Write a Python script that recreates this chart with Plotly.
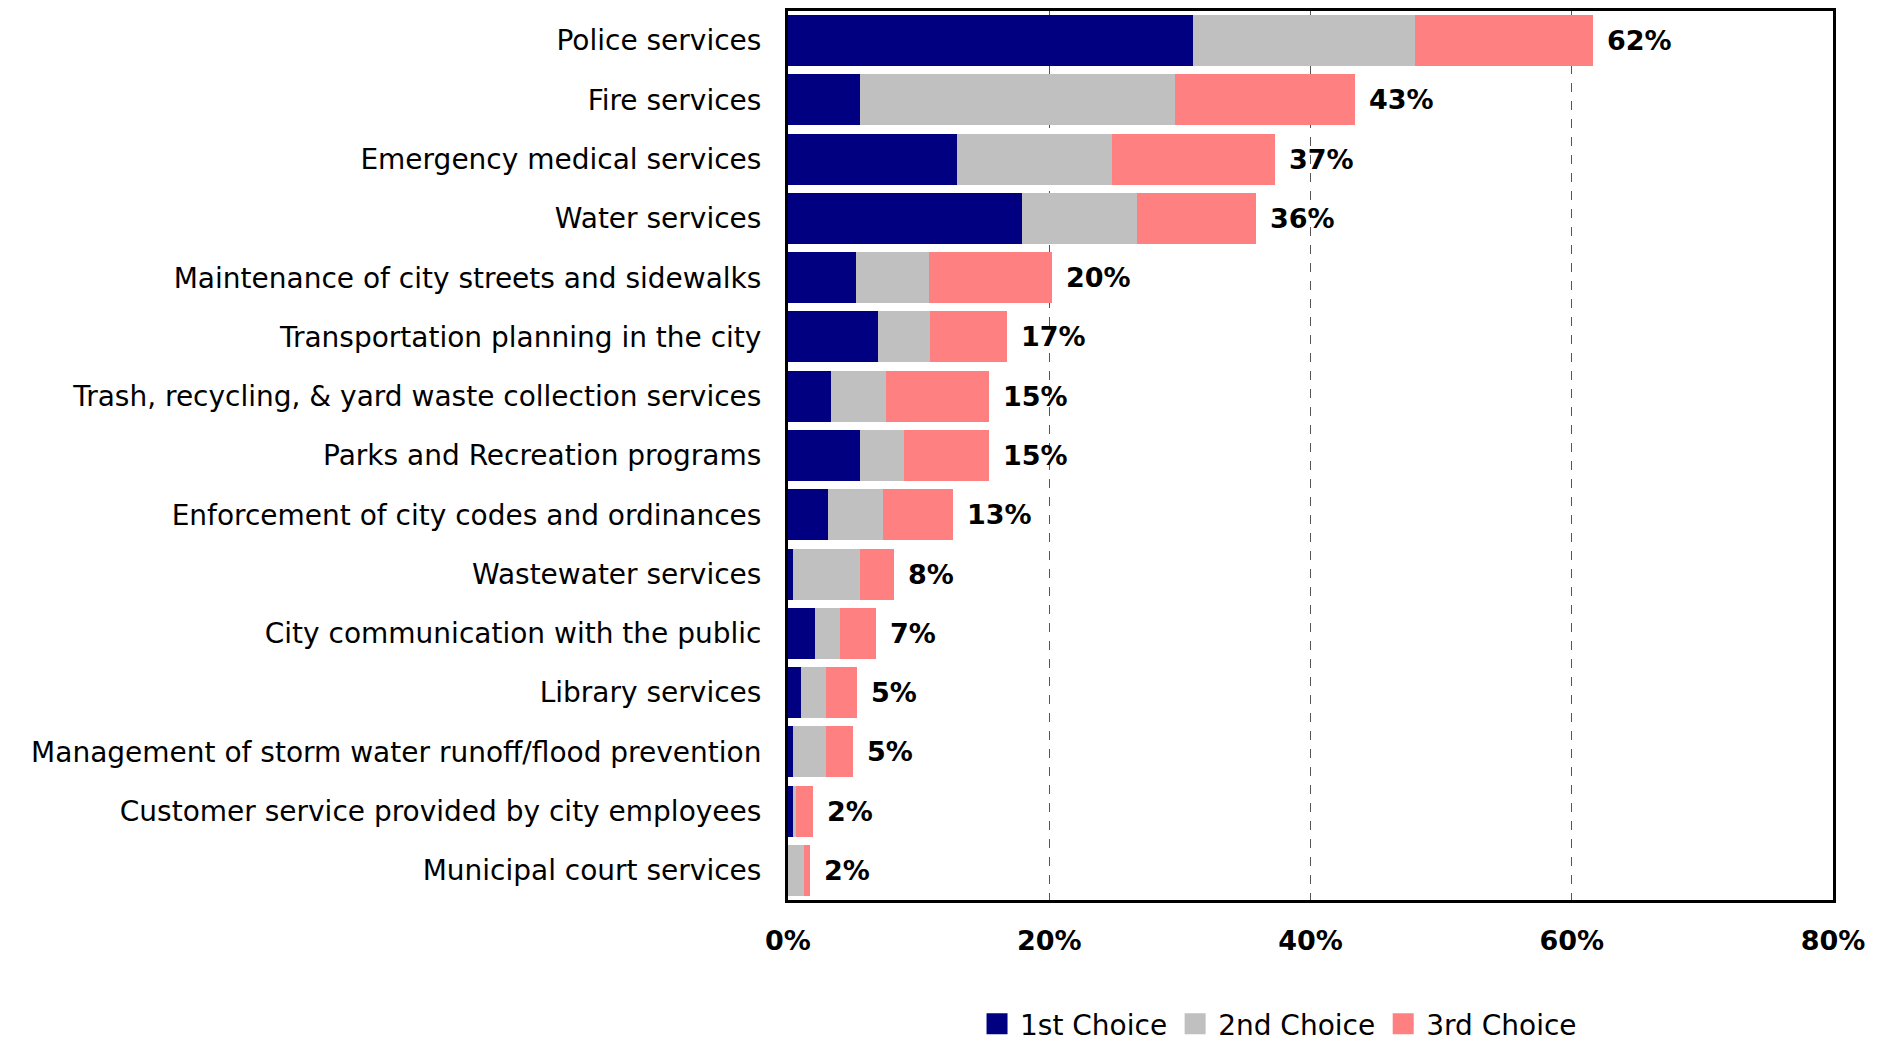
import plotly.graph_objects as go

# Service categories, top to bottom
categories = [
    "Police services",
    "Fire services",
    "Emergency medical services",
    "Water services",
    "Maintenance of city streets and sidewalks",
    "Transportation planning in the city",
    "Trash, recycling, & yard waste collection services",
    "Parks and Recreation programs",
    "Enforcement of city codes and ordinances",
    "Wastewater services",
    "City communication with the public",
    "Library services",
    "Management of storm water runoff/flood prevention",
    "Customer service provided by city employees",
    "Municipal court services",
]

# Percent of respondents choosing each service
first_choice = [31.0, 5.5, 12.9, 17.9, 5.2, 6.9, 3.3, 5.5, 3.1, 0.4, 2.1, 1.0, 0.4, 0.4, 0.0]
second_choice = [17.0, 24.1, 11.9, 8.8, 5.6, 4.0, 4.2, 3.4, 4.2, 5.1, 1.9, 1.9, 2.5, 0.2, 1.2]
third_choice = [13.6, 13.8, 12.5, 9.1, 9.4, 5.9, 7.9, 6.5, 5.3, 2.6, 2.7, 2.4, 2.1, 1.3, 0.5]

series_names = ["1st Choice", "2nd Choice", "3rd Choice"]
series_colors = ["#000080", "#C0C0C0", "#FF8080"]
x_ticks = [0, 20, 40, 60, 80]
x_tick_labels = ["0%", "20%", "40%", "60%", "80%"]

FONT = "DejaVu Sans, sans-serif"

fig = go.Figure()
for name, vals, color in zip(series_names, [first_choice, second_choice, third_choice], series_colors):
    fig.add_trace(go.Bar(
        y=categories, x=vals, name=name, orientation="h",
        marker=dict(color=color, line=dict(width=0)), showlegend=False,
    ))
    # square legend key
    fig.add_trace(go.Scatter(
        x=[None], y=[None], mode="markers", name=name,
        marker=dict(symbol="square", size=16, color=color, line=dict(color=color, width=6)),
    ))

totals = [round(a + b + c, 1) for a, b, c in zip(first_choice, second_choice, third_choice)]
for cat, tot in zip(categories, totals):
    fig.add_annotation(
        x=tot, y=cat, text=f"<b>{tot:.0f}%</b>", showarrow=False,
        xanchor="left", xshift=12, font=dict(family=FONT, size=27, color="black"),
    )

fig.update_layout(
    barmode="stack",
    bargap=0.14,
    width=1885, height=1044,
    margin=dict(l=788, r=52, t=8, b=144),
    plot_bgcolor="white", paper_bgcolor="white",
    font=dict(family=FONT, size=28, color="black"),
    legend=dict(
        orientation="h", xref="container", yref="container",
        x=0.678, xanchor="center", y=0.019, yanchor="middle",
        font=dict(family=FONT, size=28), traceorder="normal",
        itemwidth=36, tracegroupgap=0, itemsizing="trace",
    ),
    showlegend=True,
)

fig.update_xaxes(
    range=[0, 80], tickvals=x_ticks, ticktext=[f"<b>{t}</b>" for t in x_tick_labels],
    tickfont=dict(family=FONT, size=27, color="black"),
    showgrid=True, gridcolor="#555555", griddash="dash", gridwidth=1,
    showline=True, linecolor="black", linewidth=3, mirror=True,
    zeroline=False, ticks="", ticklabelstandoff=15,
)
fig.update_yaxes(
    autorange="reversed", showline=True, linecolor="black", linewidth=3, mirror=True,
    tickfont=dict(family=FONT, size=28, color="black"), ticks="", ticklabelstandoff=18,
)

fig.write_html("out.html")
